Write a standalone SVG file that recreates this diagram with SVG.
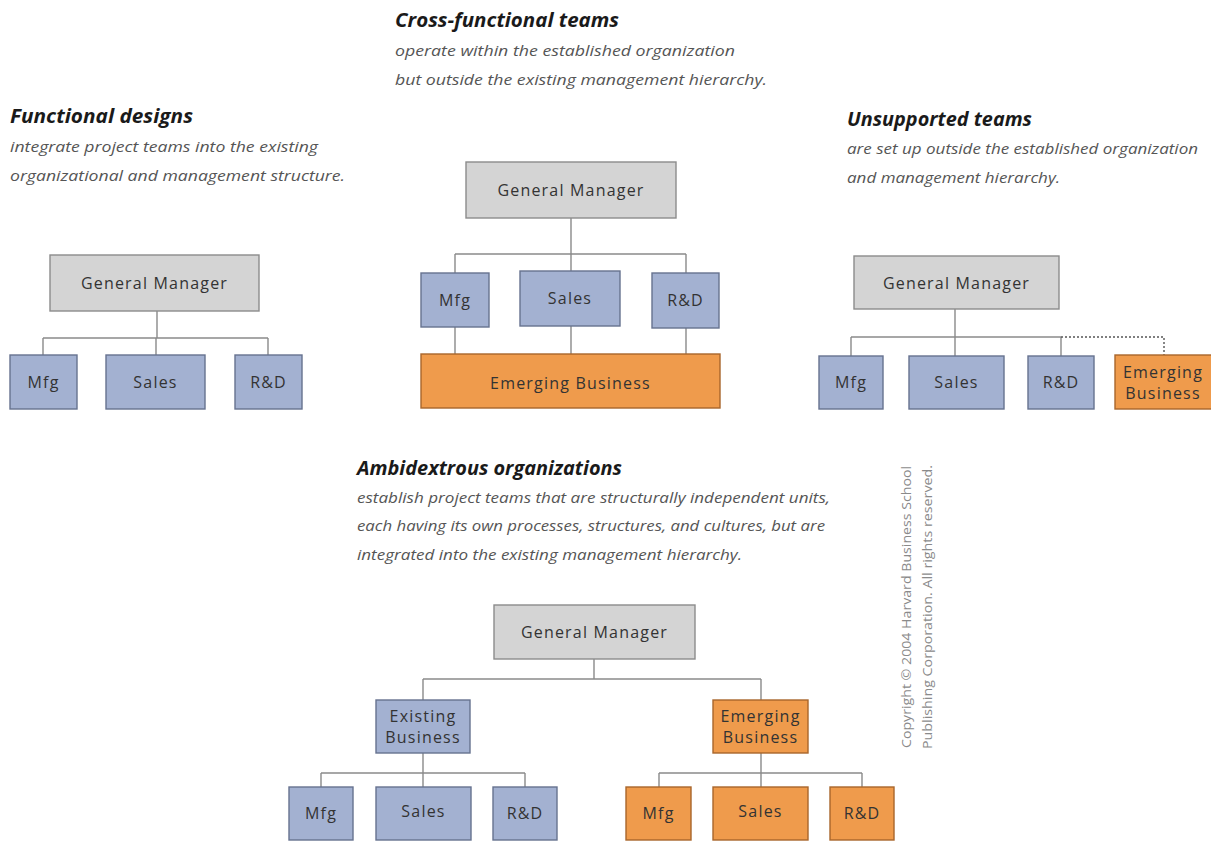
<svg xmlns="http://www.w3.org/2000/svg" width="1211" height="842" viewBox="0 0 1211 842">
<style>
.bg{fill:#ffffff}
.gm{fill:#d4d4d4;stroke:#8c8c8c;stroke-width:1.4}
.bl{fill:#a3b1d1;stroke:#66728f;stroke-width:1.4}
.or{fill:#ef9b4c;stroke:#a9662c;stroke-width:1.4}
.lbl{font-family:"Open Sans","Liberation Sans",sans-serif;font-size:16px;fill:#333;letter-spacing:1.2px;text-anchor:middle}
.ttl{font-family:"Open Sans","Liberation Sans",sans-serif;font-size:20px;font-weight:bold;font-style:italic;fill:#1a1a1a}
.dsc{font-family:"Open Sans","Liberation Sans",sans-serif;font-size:14.5px;font-style:italic;fill:#555}
.cp{font-family:"Open Sans","Liberation Sans",sans-serif;font-size:13px;fill:#8a8a8a}
.ln{fill:none;stroke:#8a8a8a;stroke-width:1.4}
.dot{fill:none;stroke:#555;stroke-width:1.4;stroke-dasharray:2 2}
</style>
<rect class="bg" x="0" y="0" width="1211" height="842"/>

<g id="captions">
<text class="ttl" x="395" y="27" textLength="224" lengthAdjust="spacingAndGlyphs">Cross-functional teams</text>
<text class="dsc" x="395" y="56" textLength="340" lengthAdjust="spacingAndGlyphs">operate within the established organization</text>
<text class="dsc" x="395" y="85" textLength="372" lengthAdjust="spacingAndGlyphs">but outside the existing management hierarchy.</text>

<text class="ttl" x="10" y="123" textLength="183" lengthAdjust="spacingAndGlyphs">Functional designs</text>
<text class="dsc" x="10" y="152" textLength="308" lengthAdjust="spacingAndGlyphs">integrate project teams into the existing</text>
<text class="dsc" x="10" y="181" textLength="335" lengthAdjust="spacingAndGlyphs">organizational and management structure.</text>

<text class="ttl" x="847" y="126" textLength="185" lengthAdjust="spacingAndGlyphs">Unsupported teams</text>
<text class="dsc" x="847" y="154" textLength="351" lengthAdjust="spacingAndGlyphs">are set up outside the established organization</text>
<text class="dsc" x="847" y="183" textLength="213" lengthAdjust="spacingAndGlyphs">and management hierarchy.</text>

<text class="ttl" x="357" y="475" textLength="265" lengthAdjust="spacingAndGlyphs">Ambidextrous organizations</text>
<text class="dsc" x="357" y="503" textLength="473" lengthAdjust="spacingAndGlyphs">establish project teams that are structurally independent units,</text>
<text class="dsc" x="357" y="531" textLength="468" lengthAdjust="spacingAndGlyphs">each having its own processes, structures, and cultures, but are</text>
<text class="dsc" x="357" y="560" textLength="385" lengthAdjust="spacingAndGlyphs">integrated into the existing management hierarchy.</text>

<text class="cp" transform="translate(911,748) rotate(-90)" textLength="282" lengthAdjust="spacingAndGlyphs">Copyright © 2004 Harvard Business School</text>
<text class="cp" transform="translate(932,749) rotate(-90)" textLength="284" lengthAdjust="spacingAndGlyphs">Publishing Corporation. All rights reserved.</text>
</g>

<g id="connectors">
<path class="ln" d="M157,311V338M43,338H268M43,338V355M156,338V355M268,338V355"/>
<path class="ln" d="M571,218V254M455,254H686M455,254V273M571,254V271M686,254V273M455,327V354M571,326V354M686,328V354"/>
<path class="ln" d="M955,309V337M851,337H1061M851,337V356M955,337V356M1061,337V356"/>
<path class="dot" d="M1061,337H1164V355"/>
<path class="ln" d="M594,659V679M423,679H761M423,679V700M761,679V700"/>
<path class="ln" d="M423,753V773M321,773H525M321,773V787M423,773V787M525,773V787"/>
<path class="ln" d="M761,753V773M659,773H862M659,773V787M761,773V787M862,773V787"/>
</g>

<g id="fd-gm"><rect class="gm" x="50" y="255" width="209" height="56"/><text class="lbl" x="154.5" y="289">General Manager</text></g>
<g id="fd-mfg"><rect class="bl" x="10" y="355" width="67" height="54"/><text class="lbl" x="43.5" y="388">Mfg</text></g>
<g id="fd-sales"><rect class="bl" x="106" y="355" width="99" height="54"/><text class="lbl" x="155.5" y="388">Sales</text></g>
<g id="fd-rd"><rect class="bl" x="235" y="355" width="67" height="54"/><text class="lbl" x="268.5" y="388">R&amp;D</text></g>

<g id="cf-gm"><rect class="gm" x="466" y="162" width="210" height="56"/><text class="lbl" x="571" y="196">General Manager</text></g>
<g id="cf-mfg"><rect class="bl" x="421" y="273" width="68" height="54"/><text class="lbl" x="455" y="306">Mfg</text></g>
<g id="cf-sales"><rect class="bl" x="520" y="271" width="100" height="55"/><text class="lbl" x="570" y="304">Sales</text></g>
<g id="cf-rd"><rect class="bl" x="652" y="273" width="67" height="55"/><text class="lbl" x="685.5" y="306">R&amp;D</text></g>
<g id="cf-eb"><rect class="or" x="421" y="354" width="299" height="54"/><text class="lbl" x="570.5" y="389">Emerging Business</text></g>

<g id="ut-gm"><rect class="gm" x="854" y="256" width="205" height="53"/><text class="lbl" x="956.5" y="289">General Manager</text></g>
<g id="ut-mfg"><rect class="bl" x="819" y="356" width="64" height="53"/><text class="lbl" x="851" y="388">Mfg</text></g>
<g id="ut-sales"><rect class="bl" x="909" y="356" width="95" height="53"/><text class="lbl" x="956.5" y="388">Sales</text></g>
<g id="ut-rd"><rect class="bl" x="1028" y="356" width="66" height="53"/><text class="lbl" x="1061" y="388">R&amp;D</text></g>
<g id="ut-eb"><rect class="or" x="1115" y="355" width="100" height="54"/><text class="lbl" x="1163" y="378">Emerging</text><text class="lbl" x="1163" y="399">Business</text></g>

<g id="ao-gm"><rect class="gm" x="494" y="605" width="201" height="54"/><text class="lbl" x="594.5" y="638">General Manager</text></g>
<g id="ao-eb1"><rect class="bl" x="376" y="700" width="94" height="53"/><text class="lbl" x="423" y="722">Existing</text><text class="lbl" x="423" y="743">Business</text></g>
<g id="ao-eb2"><rect class="or" x="713" y="700" width="95" height="53"/><text class="lbl" x="760.5" y="722">Emerging</text><text class="lbl" x="760.5" y="743">Business</text></g>
<g id="ao-mfg1"><rect class="bl" x="289" y="787" width="64" height="53"/><text class="lbl" x="321" y="819">Mfg</text></g>
<g id="ao-sales1"><rect class="bl" x="376" y="787" width="95" height="53"/><text class="lbl" x="423.5" y="817">Sales</text></g>
<g id="ao-rd1"><rect class="bl" x="493" y="787" width="64" height="53"/><text class="lbl" x="525" y="819">R&amp;D</text></g>
<g id="ao-mfg2"><rect class="or" x="626" y="787" width="65" height="53"/><text class="lbl" x="658.5" y="819">Mfg</text></g>
<g id="ao-sales2"><rect class="or" x="713" y="787" width="95" height="53"/><text class="lbl" x="760.5" y="817">Sales</text></g>
<g id="ao-rd2"><rect class="or" x="830" y="787" width="64" height="53"/><text class="lbl" x="862" y="819">R&amp;D</text></g>
</svg>
